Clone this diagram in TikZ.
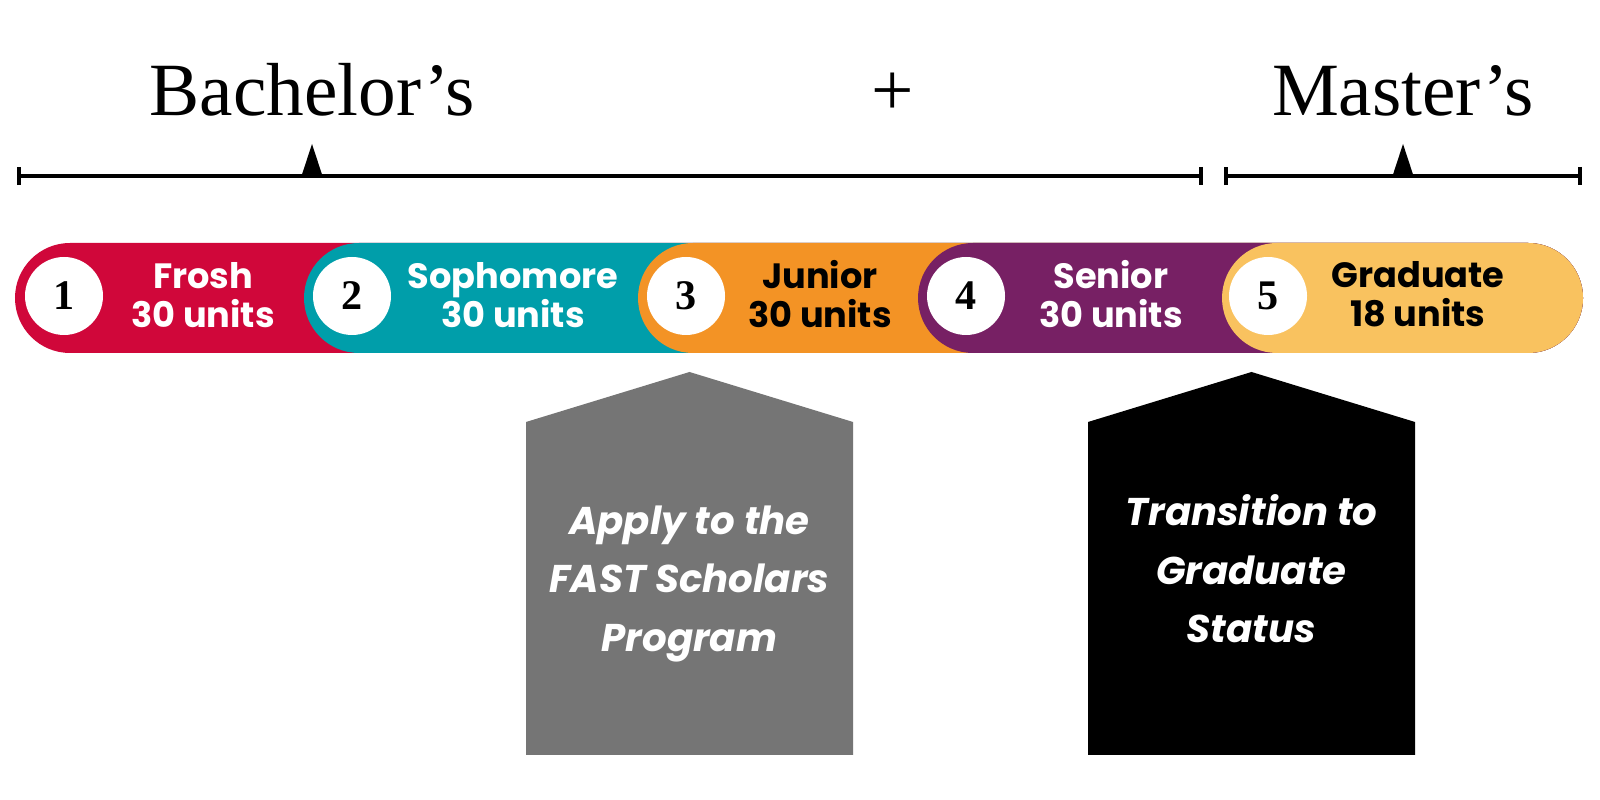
\documentclass[tikz,border=0pt]{standalone}
\usepackage{fontspec}
\setmainfont{Poppins}
\newfontfamily\headfont{Liberation Serif}
\usepackage{xcolor}
\usepackage{tikz}
\usetikzlibrary{arrows.meta}
\definecolor{froshc}{HTML}{D0073A}
\definecolor{sophc}{HTML}{009EAA}
\definecolor{juniorc}{HTML}{F39325}
\definecolor{seniorc}{HTML}{772064}
\definecolor{gradc}{HTML}{F9C25F}
\definecolor{applyc}{HTML}{757575}
\tikzset{
  tline/.style={draw=black, line width=1.15pt, arrows={Bar[width=5.2pt]-Bar[width=5.2pt]}},
  peak/.style={fill=black},
  pill/.style={rounded corners=0.55cm},
  numdot/.style={circle, fill=white, minimum size=0.78cm, inner sep=0pt, font=\headfont\bfseries\fontsize{12}{12}\selectfont},
  stagelab/.style={align=center, font=\bfseries\fontsize{10}{11}\selectfont},
  notelab/.style={align=center, text=white, font=\bfseries\itshape\fontsize{11}{16.6}\selectfont},
  headlab/.style={anchor=base, font=\headfont\fontsize{21.4}{24}\selectfont},
}
\begin{document}
\begin{tikzpicture}
  \fill[white] (0,0) rectangle (16,8);
  \useasboundingbox (0,0) rectangle (16,8);

  \node[headlab] (bach) at (3.12,6.84) {Bachelor’s};
  \node[headlab] (plus) at (8.93,6.84) {+};
  \node[headlab] (mast) at (14.03,6.84) {Master’s};

  \coordinate (bstart) at (0.17,6.24);
  \coordinate (bend) at (12.03,6.24);
  \coordinate (mstart) at (12.24,6.24);
  \coordinate (mend) at (15.82,6.24);
  \draw[tline] (bstart) -- (bend);
  \draw[tline] (mstart) -- (mend);
  \fill[peak] (3.015,6.24) -- (3.12,6.56) -- (3.225,6.24) -- cycle;
  \fill[peak] (13.925,6.24) -- (14.03,6.56) -- (14.135,6.24) -- cycle;

  \fill[froshc, pill] (0.15,4.47) rectangle (15.83,5.57);
  \fill[sophc, pill] (3.04,4.47) rectangle (15.83,5.57);
  \fill[juniorc, pill] (6.38,4.47) rectangle (15.83,5.57);
  \fill[seniorc, pill] (9.18,4.47) rectangle (15.83,5.57);
  \fill[gradc, pill] (12.22,4.47) rectangle (15.83,5.57);

  \node[numdot] (n1) at (0.64,5.04) {1};
  \node[numdot] (n2) at (3.52,5.04) {2};
  \node[numdot] (n3) at (6.86,5.04) {3};
  \node[numdot] (n4) at (9.66,5.04) {4};
  \node[numdot] (n5) at (12.68,5.04) {5};
  \node[stagelab, text=white] (frosh) at (2.03,5.05) {Frosh\\30 units};
  \node[stagelab, text=white] (soph) at (5.13,5.05) {Sophomore\\30 units};
  \node[stagelab, text=black] (junior) at (8.20,5.06) {Junior\\30 units};
  \node[stagelab, text=white] (senior) at (11.11,5.06) {Senior\\30 units};
  \node[stagelab, text=black] (grad) at (14.18,5.06) {Graduate\\18 units};

  \fill[applyc] (5.26,0.45) -- (5.26,3.78) -- (6.895,4.28) -- (8.53,3.78) -- (8.53,0.45) -- cycle;
  \fill[black] (10.88,0.45) -- (10.88,3.78) -- (12.515,4.28) -- (14.15,3.78) -- (14.15,0.45) -- cycle;
  \node[notelab] (apply) at (6.895,2.16) {Apply to the\\FAST Scholars\\Program};
  \node[notelab] (trans) at (12.515,2.31) {Transition to\\Graduate\\Status};
\end{tikzpicture}
\end{document}
